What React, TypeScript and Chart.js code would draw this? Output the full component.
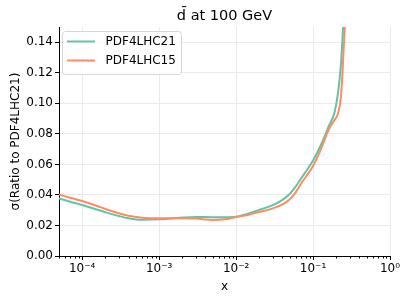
import React, { useEffect, useRef } from "react";
import { Chart, registerables } from "chart.js";

Chart.register(...registerables);

const xValues = [5e-5, 7e-5, 1e-4, 1.5e-4, 2e-4, 3e-4, 4e-4, 6e-4, 1e-3, 1.5e-3, 2e-3, 3e-3, 5e-3, 7e-3, 1e-2, 1.5e-2, 2e-2, 3e-2, 4e-2, 5e-2, 6e-2, 7e-2, 8.5e-2, 0.1, 0.13, 0.16, 0.19, 0.21, 0.23, 0.24, 0.25, 0.26, 0.27];
const pdf21 = [0.0377, 0.0355, 0.0334, 0.0306, 0.0287, 0.0262, 0.0247, 0.0237, 0.024, 0.0247, 0.0252, 0.0256, 0.0254, 0.0254, 0.0257, 0.028, 0.0302, 0.0333, 0.0368, 0.0408, 0.0458, 0.0508, 0.057, 0.0625, 0.074, 0.085, 0.094, 0.106, 0.125, 0.14, 0.157, 0.176, 0.2];
const pdf15 = [0.0403, 0.0381, 0.036, 0.0331, 0.0308, 0.028, 0.0263, 0.0251, 0.0247, 0.0248, 0.0248, 0.0245, 0.0236, 0.024, 0.0256, 0.0272, 0.0288, 0.0312, 0.0338, 0.0372, 0.042, 0.0475, 0.0535, 0.059, 0.0715, 0.083, 0.089, 0.093, 0.104, 0.118, 0.136, 0.153, 0.17];
const seriesNames = ["PDF4LHC21", "PDF4LHC15"];
const seriesColors = ["#66c2a5", "#fc8d62"];
const majorX = [1e-4, 1e-3, 1e-2, 1e-1, 1];
const majorXLabels = ["10\u207B\u2074", "10\u207B\u00B3", "10\u207B\u00B2", "10\u207B\u00B9", "10\u2070"];
const titleText = "d\u0304 at 100 GeV";
const xTitle = "x";
const yTitle = "\u03C3(Ratio to PDF4LHC21)";

const FONT = "DejaVu Sans";

function buildXTicks(): number[] {
  const out: number[] = [];
  for (let e = -5; e <= 0; e++) {
    for (let m = 1; m <= 9; m++) {
      const v = parseFloat((m * Math.pow(10, e)).toPrecision(6));
      if (v >= 5e-5 - 1e-12 && v <= 1 + 1e-12) out.push(v);
    }
  }
  return out;
}
const xTickVals = buildXTicks();
function isMajor(v: number): boolean {
  return majorX.some((m) => Math.abs(v - m) / m < 1e-6);
}

export default function App() {
  const ref = useRef<HTMLCanvasElement | null>(null);
  useEffect(() => {
    if (!ref.current) return;
    const decor = {
      id: "decor",
      afterDraw(chart: any) {
        const ctx = chart.ctx;
        const area = chart.chartArea;
        const xs = chart.scales.x;
        ctx.save();
        // minor ticks
        ctx.strokeStyle = "#000";
        ctx.lineWidth = 1;
        xTickVals.forEach((v) => {
          if (isMajor(v)) return;
          const px = Math.round(xs.getPixelForValue(v)) + 0.5;
          ctx.beginPath();
          ctx.moveTo(px, area.bottom);
          ctx.lineTo(px, area.bottom + 2.5);
          ctx.stroke();
        });
        // title
        ctx.fillStyle = "#000";
        ctx.font = `14.5px "${FONT}"`;
        ctx.textAlign = "center";
        ctx.textBaseline = "alphabetic";
        ctx.fillText(titleText, (area.left + area.right) / 2, 19.5);
        // x title
        ctx.font = `12px "${FONT}"`;
        ctx.fillText(xTitle, (area.left + area.right) / 2, 290);
        // y title
        ctx.save();
        ctx.translate(18.5, (area.top + area.bottom) / 2);
        ctx.rotate(-Math.PI / 2);
        ctx.fillText(yTitle, 0, 0);
        ctx.restore();
        // legend
        const bx = 62.5, by = 31.5, bw = 119, bh = 43, r = 3;
        ctx.beginPath();
        ctx.moveTo(bx + r, by);
        ctx.lineTo(bx + bw - r, by);
        ctx.arcTo(bx + bw, by, bx + bw, by + r, r);
        ctx.lineTo(bx + bw, by + bh - r);
        ctx.arcTo(bx + bw, by + bh, bx + bw - r, by + bh, r);
        ctx.lineTo(bx + r, by + bh);
        ctx.arcTo(bx, by + bh, bx, by + bh - r, r);
        ctx.lineTo(bx, by + r);
        ctx.arcTo(bx, by, bx + r, by, r);
        ctx.closePath();
        ctx.fillStyle = "rgba(255,255,255,0.8)";
        ctx.fill();
        ctx.strokeStyle = "#d6d6d6";
        ctx.lineWidth = 1;
        ctx.stroke();
        const rows = [41.5, 60.5];
        seriesNames.forEach((name, i) => {
          ctx.strokeStyle = seriesColors[i];
          ctx.lineWidth = 2;
          ctx.beginPath();
          ctx.moveTo(67, rows[i]);
          ctx.lineTo(95, rows[i]);
          ctx.stroke();
          ctx.fillStyle = "#000";
          ctx.font = `12px "${FONT}"`;
          ctx.textAlign = "left";
          ctx.textBaseline = "middle";
          ctx.fillText(name, 105.5, rows[i] + 0.5);
        });
        ctx.restore();
      },
    };

    const chart = new Chart(ref.current, {
      type: "line",
      data: {
        datasets: [
          {
            label: seriesNames[0],
            data: xValues.map((x, i) => ({ x, y: pdf21[i] })),
            borderColor: seriesColors[0],
            backgroundColor: seriesColors[0],
            borderWidth: 2,
            pointRadius: 0,
            cubicInterpolationMode: "monotone",
            order: 1,
            clip: 0,
          },
          {
            label: seriesNames[1],
            data: xValues.map((x, i) => ({ x, y: pdf15[i] })),
            borderColor: seriesColors[1],
            backgroundColor: seriesColors[1],
            borderWidth: 2,
            pointRadius: 0,
            cubicInterpolationMode: "monotone",
            order: 0,
            clip: 0,
          },
        ],
      },
      options: {
        animation: false,
        responsive: false,
        devicePixelRatio: 1,
        font: { family: FONT, size: 12 },
        layout: { padding: { top: 27, right: 17, left: 0, bottom: 0 } },
        plugins: { legend: { display: false }, title: { display: false }, tooltip: { enabled: false } },
        scales: {
          x: {
            type: "logarithmic",
            min: 5e-5,
            max: 1,
            afterFit: (s: any) => { s.height = 44; },
            afterBuildTicks: (s: any) => {
              s.ticks = xTickVals.map((v) => ({ value: v }));
            },
            border: { display: true, color: "#000", width: 1 },
            grid: {
              color: (c: any) => (c.tick && isMajor(c.tick.value) ? "#ebebeb" : "rgba(0,0,0,0)"),
              tickColor: (c: any) => (c.tick && isMajor(c.tick.value) ? "#000" : "rgba(0,0,0,0)"),
              tickLength: 4,
              lineWidth: 1,
            },
            ticks: {
              autoSkip: false,
              maxRotation: 0,
              minRotation: 0,
              padding: 2,
              color: "#000",
              font: { family: FONT, size: 12 },
              callback: (v: any) => {
                const idx = majorX.findIndex((m) => Math.abs(Number(v) - m) / m < 1e-6);
                return idx >= 0 ? majorXLabels[idx] : "";
              },
            },
          },
          y: {
            type: "linear",
            min: 0,
            max: 0.15,
            afterFit: (s: any) => { s.width = 59; },
            border: { display: true, color: "#000", width: 1 },
            grid: { color: "#ebebeb", tickColor: "#000", tickLength: 4, lineWidth: 1 },
            ticks: {
              stepSize: 0.02,
              includeBounds: false,
              padding: 2,
              color: "#000",
              font: { family: FONT, size: 12 },
              callback: (v: any) => Number(v).toFixed(2),
            },
          },
        },
      },
      plugins: [decor],
    } as any);
    return () => chart.destroy();
  }, []);
  return (
    <div style={{ position: "fixed", left: 0, top: 0, width: 407, height: 300, background: "#fff" }}>
      <canvas ref={ref} width={407} height={300} style={{ width: 407, height: 300, display: "block" }} />
    </div>
  );
}
